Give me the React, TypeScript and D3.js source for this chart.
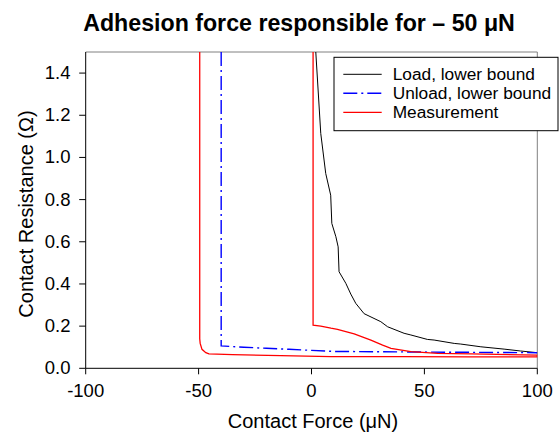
import React from "react";
import * as d3 from "d3";

// Contact force (µN) vs contact resistance (Ω)
const loadForce = [1.9, 4.1, 6.3, 8.5, 9.0, 10.8, 11.8, 12.2, 15.2, 17.4, 19.6, 23.3, 30.7, 33.7, 41, 44, 51.3, 54.3, 63.2, 66.1, 75, 85.3, 92.6, 100];
const loadRes = [1.5, 1.114, 0.924, 0.821, 0.687, 0.624, 0.576, 0.458, 0.403, 0.352, 0.308, 0.259, 0.221, 0.197, 0.166, 0.158, 0.137, 0.134, 0.118, 0.115, 0.102, 0.091, 0.082, 0.074];

const unloadForce = [-40, -40, -30, -20, -10, 0, 10, 50, 100];
const unloadRes = [1.5, 0.106, 0.1, 0.095, 0.09, 0.085, 0.08, 0.077, 0.074];

const measForce = [0.7, 0.7, 4.1, 8.6, 11.5, 18.9, 26.3, 31.5, 35.2, 44, 55.9, 70.6, 100, 100, 70, 40, 8.6, -13.6, -35, -45.4, -46.8, -48.5, -49.3, -49.5, -49.5];
const measRes = [1.5, 0.205, 0.2, 0.19, 0.185, 0.163, 0.134, 0.11, 0.095, 0.079, 0.071, 0.068, 0.063, 0.054, 0.054, 0.055, 0.055, 0.06, 0.065, 0.068, 0.074, 0.09, 0.118, 0.14, 1.5];

const xTicks = [-100, -50, 0, 50, 100];
const yTicks = [0, 0.2, 0.4, 0.6, 0.8, 1.0, 1.2, 1.4];

const seriesNames = ["Load, lower bound", "Unload, lower bound", "Measurement"];
const seriesColors = ["#000000", "#0000ff", "#ff0000"];
const seriesDash = ["none", "14,4,2,4", "none"];

const W = 560;
const H = 434;
const left = 85.7;
const right = 537.3;
const top = 52;
const bottom = 368.3;

const FONT = "Arial, 'Liberation Sans', Helvetica, sans-serif";

export default function App() {
  const x = d3.scaleLinear().domain([-100, 100]).range([left, right]);
  const y = d3.scaleLinear().domain([0, 1.5]).range([bottom, top]);
  const line = d3
    .line<[number, number]>()
    .x((d) => x(d[0]))
    .y((d) => y(d[1]));

  const zip = (a: number[], b: number[]) => a.map((v, i) => [v, b[i]] as [number, number]);
  const series = [zip(loadForce, loadRes), zip(unloadForce, unloadRes), zip(measForce, measRes)];
  const widths = [1, 1.4, 1.3];

  const legX = 334;
  const legY = 57.3;
  const rowY = [74.3, 93.3, 112.3];

  return (
    <svg
      width={W}
      height={H}
      style={{ position: "absolute", left: 0, top: 0, background: "#fff" }}
      fontFamily={FONT}
    >
      <defs>
        <clipPath id="plotClip">
          <rect x={left} y={top} width={right - left} height={bottom - top} />
        </clipPath>
      </defs>

      <text x={299} y={30.5} textAnchor="middle" fontSize={23.2} fontWeight="bold" fill="#000">
        Adhesion force responsible for – 50 μN
      </text>

      {/* frame */}
      <line x1={left} x2={right} y1={top} y2={top} stroke="#808080" strokeWidth={1} />
      <line x1={right} x2={right} y1={top} y2={bottom} stroke="#808080" strokeWidth={1} />

      <g clipPath="url(#plotClip)">
        {series.map((s, i) => (
          <path
            key={i}
            d={line(s) || ""}
            fill="none"
            stroke={seriesColors[i]}
            strokeWidth={widths[i]}
            strokeDasharray={seriesDash[i]}
          />
        ))}
      </g>

      {/* axes */}
      <line x1={left} x2={left} y1={top} y2={bottom} stroke="#000" strokeWidth={1} />
      <line x1={left} x2={right} y1={bottom} y2={bottom} stroke="#000" strokeWidth={1} />
      {yTicks.map((t) => (
        <g key={"y" + t}>
          <line x1={left - 6.5} x2={left} y1={y(t)} y2={y(t)} stroke="#000" />
          <text x={70.5} y={y(t) + 6} textAnchor="end" fontSize={18.5} fill="#000">
            {t.toFixed(1)}
          </text>
        </g>
      ))}
      {xTicks.map((t) => (
        <g key={"x" + t}>
          <line x1={x(t)} x2={x(t)} y1={bottom} y2={bottom + 6} stroke="#000" />
          <text x={x(t)} y={397} textAnchor="middle" fontSize={18.5} fill="#000">
            {t}
          </text>
        </g>
      ))}

      <text x={313} y={428} textAnchor="middle" fontSize={20} fill="#000">
        Contact Force (μN)
      </text>
      <text
        transform={`translate(32.5,214) rotate(-90)`}
        textAnchor="middle"
        fontSize={20}
        fill="#000"
      >
        Contact Resistance (Ω)
      </text>

      {/* legend */}
      <rect x={legX} y={legY} width={224} height={73.4} fill="#fff" stroke="#000" strokeWidth={1} />
      {seriesNames.map((n, i) => (
        <g key={n}>
          <line
            x1={343.3}
            x2={381.7}
            y1={rowY[i]}
            y2={rowY[i]}
            stroke={seriesColors[i]}
            strokeWidth={widths[i]}
            strokeDasharray={seriesDash[i]}
          />
          <text x={392.7} y={rowY[i] + 6} fontSize={17.3} fill="#000">
            {n}
          </text>
        </g>
      ))}
    </svg>
  );
}
